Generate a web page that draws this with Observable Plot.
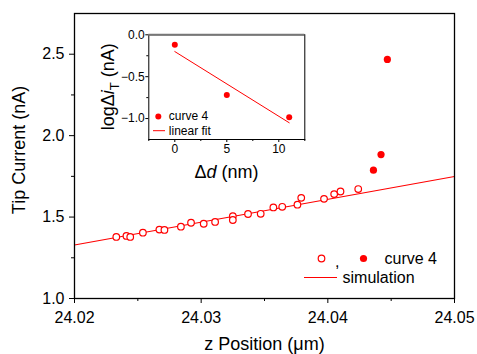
<!DOCTYPE html>
<html>
<head>
<meta charset="utf-8">
<script src="https://cdn.jsdelivr.net/npm/d3@7"></script>
<script src="https://cdn.jsdelivr.net/npm/@observablehq/plot@0.6"></script>
<style>
  html, body { margin: 0; padding: 0; background: #fff; }
  #wrap { position: relative; width: 477px; height: 354px; overflow: hidden; }
  #wrap svg { position: absolute; }
</style>
</head>
<body>
<div id="wrap"></div>
<script>
// ---- main chart data ----
const zOpen = [24.0233, 24.0241, 24.0244, 24.0254, 24.0267, 24.0271, 24.0284, 24.0292, 24.0302, 24.0311,
               24.0325, 24.0325, 24.0337, 24.0347, 24.0357, 24.0364, 24.0376, 24.0379, 24.0397, 24.0405,
               24.0410, 24.0424];
const iOpen = [1.378, 1.384, 1.378, 1.404, 1.423, 1.421, 1.441, 1.465, 1.459, 1.470,
               1.506, 1.482, 1.519, 1.520, 1.559, 1.563, 1.576, 1.618, 1.612, 1.641,
               1.657, 1.672];
const zFilled = [24.0436, 24.0442, 24.0447];
const iFilled = [1.788, 1.884, 2.468];
const zSim = [24.02, 24.05];
const iSim = [1.329, 1.749];
const xTicks = [24.02, 24.03, 24.04, 24.05];
const xMinor = [24.025, 24.035, 24.045];
const yTicks = [1.0, 1.5, 2.0, 2.5];
const yMinor = [1.25, 1.75, 2.25];

// ---- inset data ----
const dD = [0, 5, 11];
const logDi = [-0.12, -0.72, -0.983];
const dFit = [0, 11];
const logFit = [-0.2, -1.05];
const insetXTicks = [0, 5, 10];
const insetXMinor = [-2.5, 2.5, 7.5, 12.5];
const insetYTicks = [0.0, -0.5, -1.0];
const insetYMinor = [-0.25, -0.75];

const font = "'Liberation Sans', Arial, Helvetica, sans-serif";
const red = "#ff0000";

const openData = zOpen.map((z, i) => ({z, v: iOpen[i]}));
const filledData = zFilled.map((z, i) => ({z, v: iFilled[i]}));
const simData = zSim.map((z, i) => ({z, v: iSim[i]}));

const main = Plot.plot({
  width: 477, height: 354,
  marginLeft: 74, marginRight: 23, marginTop: 13, marginBottom: 56,
  style: {fontFamily: font, background: "transparent", color: "#000", overflow: "visible"},
  x: {domain: [24.02, 24.05]},
  y: {domain: [1.0, 2.75]},
  marks: [
    Plot.line(simData, {x: "z", y: "v", stroke: red, strokeWidth: 1.1}),
    Plot.dot(openData, {x: "z", y: "v", r: 3.3, stroke: red, fill: "white", strokeWidth: 1.2}),
    Plot.dot(filledData, {x: "z", y: "v", r: 3.6, fill: red}),
    Plot.axisX({ticks: xTicks, tickFormat: ".2f", tickSize: 5, tickPadding: 8, fontSize: 16, label: null, stroke: "#000"}),
    Plot.axisX({ticks: xMinor, tickFormat: () => "", tickSize: 3, label: null}),
    Plot.axisY({ticks: yTicks, tickFormat: ".1f", tickSize: 5, tickPadding: 5, fontSize: 16, label: null}),
    Plot.axisY({ticks: yMinor, tickFormat: () => "", tickSize: 3, label: null}),
    Plot.frame({stroke: "#000", strokeWidth: 1.3}),
    Plot.text(["z Position (μm)"], {frameAnchor: "bottom", dy: 51, lineAnchor: "bottom", fontSize: 18, fill: "#000"}),
    Plot.text(["Tip Current (nA)"], {frameAnchor: "left", dx: -55, dy: -6, rotate: -90, textAnchor: "middle", lineAnchor: "middle", fontSize: 18, fill: "#000"}),
    // legend
    Plot.dot([0], {frameAnchor: "bottom-right", dx: -133, dy: -40, r: 3.3, stroke: red, fill: "white", strokeWidth: 1.2}),
    Plot.text([","], {frameAnchor: "bottom-right", dx: -115, dy: -37, lineAnchor: "middle", fontSize: 16, fill: "#000"}),
    Plot.dot([0], {frameAnchor: "bottom-right", dx: -91, dy: -40, r: 3.6, fill: red}),
    Plot.text(["curve 4"], {frameAnchor: "bottom-right", dx: -70, dy: -40, lineAnchor: "middle", textAnchor: "start", fontSize: 16, fill: "#000"}),
    Plot.text(["simulation"], {frameAnchor: "bottom-right", dx: -112, dy: -20.5, lineAnchor: "middle", textAnchor: "start", fontSize: 16, fill: "#000"})
  ]
});
main.style.left = "0px"; main.style.top = "0px";
document.getElementById("wrap").appendChild(main);
// simulation legend swatch (line)
d3.select(main).append("line")
  .attr("x1", 304).attr("x2", 337).attr("y1", 277.5).attr("y2", 277.5)
  .attr("stroke", red).attr("stroke-width", 1.1);

// ---- inset ----
const insetLeft = 80, insetTop = 14;
const ptData = dD.map((d, i) => ({d, v: logDi[i]}));
const fitData = dFit.map((d, i) => ({d, v: logFit[i]}));
const inset = Plot.plot({
  width: 240, height: 175,
  marginLeft: 68.3, marginRight: 15.7, marginTop: 20.3, marginBottom: 50,
  style: {fontFamily: font, background: "transparent", color: "#000", overflow: "visible"},
  x: {domain: [-2.5, 12.5]},
  y: {domain: [-1.25, 0]},
  marks: [
    Plot.frame({fill: "white", stroke: "none"}),
    Plot.line(fitData, {x: "d", y: "v", stroke: red, strokeWidth: 1}),
    Plot.dot(ptData, {x: "d", y: "v", r: 3, fill: red}),
    Plot.axisX({ticks: insetXTicks, tickFormat: d => d3.format("d")(d), tickSize: 3, tickPadding: 2, fontSize: 12, label: null}),
    Plot.axisX({ticks: insetXMinor, tickFormat: () => "", tickSize: 2, label: null}),
    Plot.axisY({ticks: insetYTicks, tickFormat: ".1f", tickSize: 3, tickPadding: 1, fontSize: 12, label: null}),
    Plot.axisY({ticks: insetYMinor, tickFormat: () => "", tickSize: 2, label: null}),
    Plot.frame({stroke: "#000", strokeWidth: 1}),
    Plot.ruleY([0], {stroke: "#777", strokeWidth: 2}),
    // legend
    Plot.dot([0], {frameAnchor: "bottom-left", dx: 9.5, dy: -23, r: 3, fill: red}),
    Plot.text(["curve 4"], {frameAnchor: "bottom-left", dx: 20, dy: -23, lineAnchor: "middle", textAnchor: "start", fontSize: 12, fill: "#000"}),
    Plot.text(["linear fit"], {frameAnchor: "bottom-left", dx: 20, dy: -8.5, lineAnchor: "middle", textAnchor: "start", fontSize: 12, fill: "#000"})
  ]
});
inset.style.left = insetLeft + "px"; inset.style.top = insetTop + "px";
document.getElementById("wrap").appendChild(inset);
const si = d3.select(inset);
// inset legend line swatch
si.append("line").attr("x1", 153 - insetLeft).attr("x2", 165 - insetLeft)
  .attr("y1", 130.7 - insetTop).attr("y2", 130.7 - insetTop)
  .attr("stroke", red).attr("stroke-width", 1);
// inset x label: Δd (nm)
const xl = si.append("text").attr("x", 226.5 - insetLeft).attr("y", 178 - insetTop)
  .attr("text-anchor", "middle").attr("font-size", 18).attr("font-family", font).attr("fill", "#000");
xl.append("tspan").text("Δ");
xl.append("tspan").attr("font-style", "italic").text("d");
xl.append("tspan").text(" (nm)");
// inset y label: logΔi_T (nA)
const yl = si.append("text")
  .attr("transform", `translate(${114 - insetLeft},${86.7 - insetTop}) rotate(-90)`)
  .attr("text-anchor", "middle").attr("font-size", 18).attr("font-family", font).attr("fill", "#000");
yl.append("tspan").text("logΔ");
yl.append("tspan").attr("font-style", "italic").text("i");
yl.append("tspan").attr("font-size", 13).attr("dy", 5).text("T");
yl.append("tspan").attr("dy", -5).text(" (nA)");
</script>
</body>
</html>
